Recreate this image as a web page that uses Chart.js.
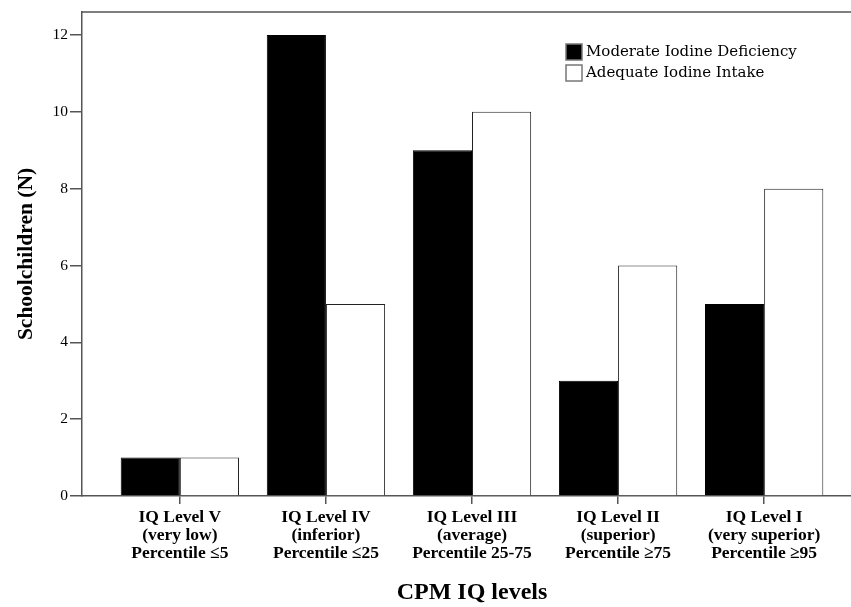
<!DOCTYPE html>
<html>
<head>
<meta charset="utf-8">
<script src="https://cdn.jsdelivr.net/npm/chart.js@4.4.1/dist/chart.umd.min.js"></script>
<style>
    html, body { margin: 0; padding: 0; background: #fff; overflow: hidden; }
    #wrap { width: 851px; height: 607px; overflow: hidden; }
</style>
</head>
<body>
<div id="wrap"><canvas id="iqChart" width="870" height="607"></canvas></div>
<script>
// CPM IQ level categories (multi-line tick labels)
const categories = [
    ['IQ Level V', '(very low)', 'Percentile ≤5'],
    ['IQ Level IV', '(inferior)', 'Percentile ≤25'],
    ['IQ Level III', '(average)', 'Percentile 25-75'],
    ['IQ Level II', '(superior)', 'Percentile ≥75'],
    ['IQ Level I', '(very superior)', 'Percentile ≥95'],
];
const seriesNames = ['Moderate Iodine Deficiency', 'Adequate Iodine Intake'];
const moderateDeficiency = [1, 12, 9, 3, 5];
const adequateIntake = [1, 5, 10, 6, 8];
const yTicks = [0, 2, 4, 6, 8, 10, 12];

const AXIS_COLOR = '#555';

/** draw top frame line and the in-plot legend */
const framePlugin = {
    id: 'frame',
    afterDraw(chart) {
        const { ctx, chartArea } = chart;
        ctx.save();
        ctx.strokeStyle = AXIS_COLOR;
        ctx.lineWidth = 1.5;
        ctx.beginPath();
        ctx.moveTo(chartArea.left, chartArea.top);
        ctx.lineTo(chartArea.right, chartArea.top);
        ctx.stroke();

        // legend
        const x0 = 566;
        let y0 = 44;
        ctx.font = '15px "DejaVu Serif"';
        ctx.textBaseline = 'middle';
        chart.data.datasets.forEach((ds) => {
            ctx.fillStyle = ds.backgroundColor;
            ctx.fillRect(x0, y0, 16, 16);
            ctx.strokeStyle = '#777';
            ctx.lineWidth = 1.5;
            ctx.strokeRect(x0, y0, 16, 16);
            ctx.fillStyle = '#000';
            ctx.fillText(ds.label, x0 + 20, y0 + 8);
            y0 += 21;
        });
        ctx.restore();
    },
};

new Chart(document.getElementById('iqChart'), {
    type: 'bar',
    data: {
        datasets: [
            {
                label: seriesNames[0],
                data: moderateDeficiency.map((v, i) => ({ x: i, y: v })),
                backgroundColor: '#000',
                borderColor: '#000',
                borderWidth: 1,
            },
            {
                label: seriesNames[1],
                data: adequateIntake.map((v, i) => ({ x: i, y: v })),
                backgroundColor: '#fff',
                borderColor: '#222',
                borderWidth: 1,
            },
        ],
    },
    options: {
        responsive: false,
        animation: false,
        devicePixelRatio: 1,
        layout: { padding: { top: 12, right: 8, left: 0, bottom: 0 } },
        datasets: { bar: { categoryPercentage: 0.81, barPercentage: 1 } },
        plugins: { legend: { display: false }, tooltip: { enabled: false } },
        scales: {
            x: {
                type: 'linear',
                offset: false,
                min: -0.67,
                max: 4.67,
                afterBuildTicks(scale) {
                    scale.ticks = categories.map((_, i) => ({ value: i }));
                },
                afterFit(scale) {
                    scale.height = 111;
                },
                ticks: {
                    autoSkip: false,
                    maxRotation: 0,
                    padding: 4,
                    color: '#000',
                    font: { family: 'Liberation Serif', size: 17.5, weight: 'bold', lineHeight: '18px' },
                    callback: (v) => categories[v],
                },
                grid: { offset: false, drawOnChartArea: false, drawTicks: true, tickLength: 8, color: AXIS_COLOR, lineWidth: 1.5 },
                border: { color: AXIS_COLOR, width: 1.5 },
                title: {
                    display: true,
                    text: 'CPM IQ levels',
                    color: '#000',
                    font: { family: 'Liberation Serif', size: 24, weight: 'bold' },
                    padding: { top: 16, bottom: 0 },
                },
            },
            y: {
                min: 0,
                max: 12.6,
                afterBuildTicks(scale) {
                    scale.ticks = yTicks.map((v) => ({ value: v }));
                },
                afterFit(scale) {
                    scale.width = 82;
                },
                ticks: {
                    padding: 2,
                    color: '#000',
                    font: { family: 'Liberation Serif', size: 15.5 },
                },
                grid: { drawOnChartArea: false, drawTicks: true, tickLength: 12, color: AXIS_COLOR, lineWidth: 1.5 },
                border: { color: AXIS_COLOR, width: 1.5 },
                title: {
                    display: true,
                    text: 'Schoolchildren (N)',
                    color: '#000',
                    font: { family: 'Liberation Serif', size: 21.5, weight: 'bold' },
                    padding: { top: 14, bottom: 0 },
                },
            },
        },
    },
    plugins: [framePlugin],
});
</script>
</body>
</html>
